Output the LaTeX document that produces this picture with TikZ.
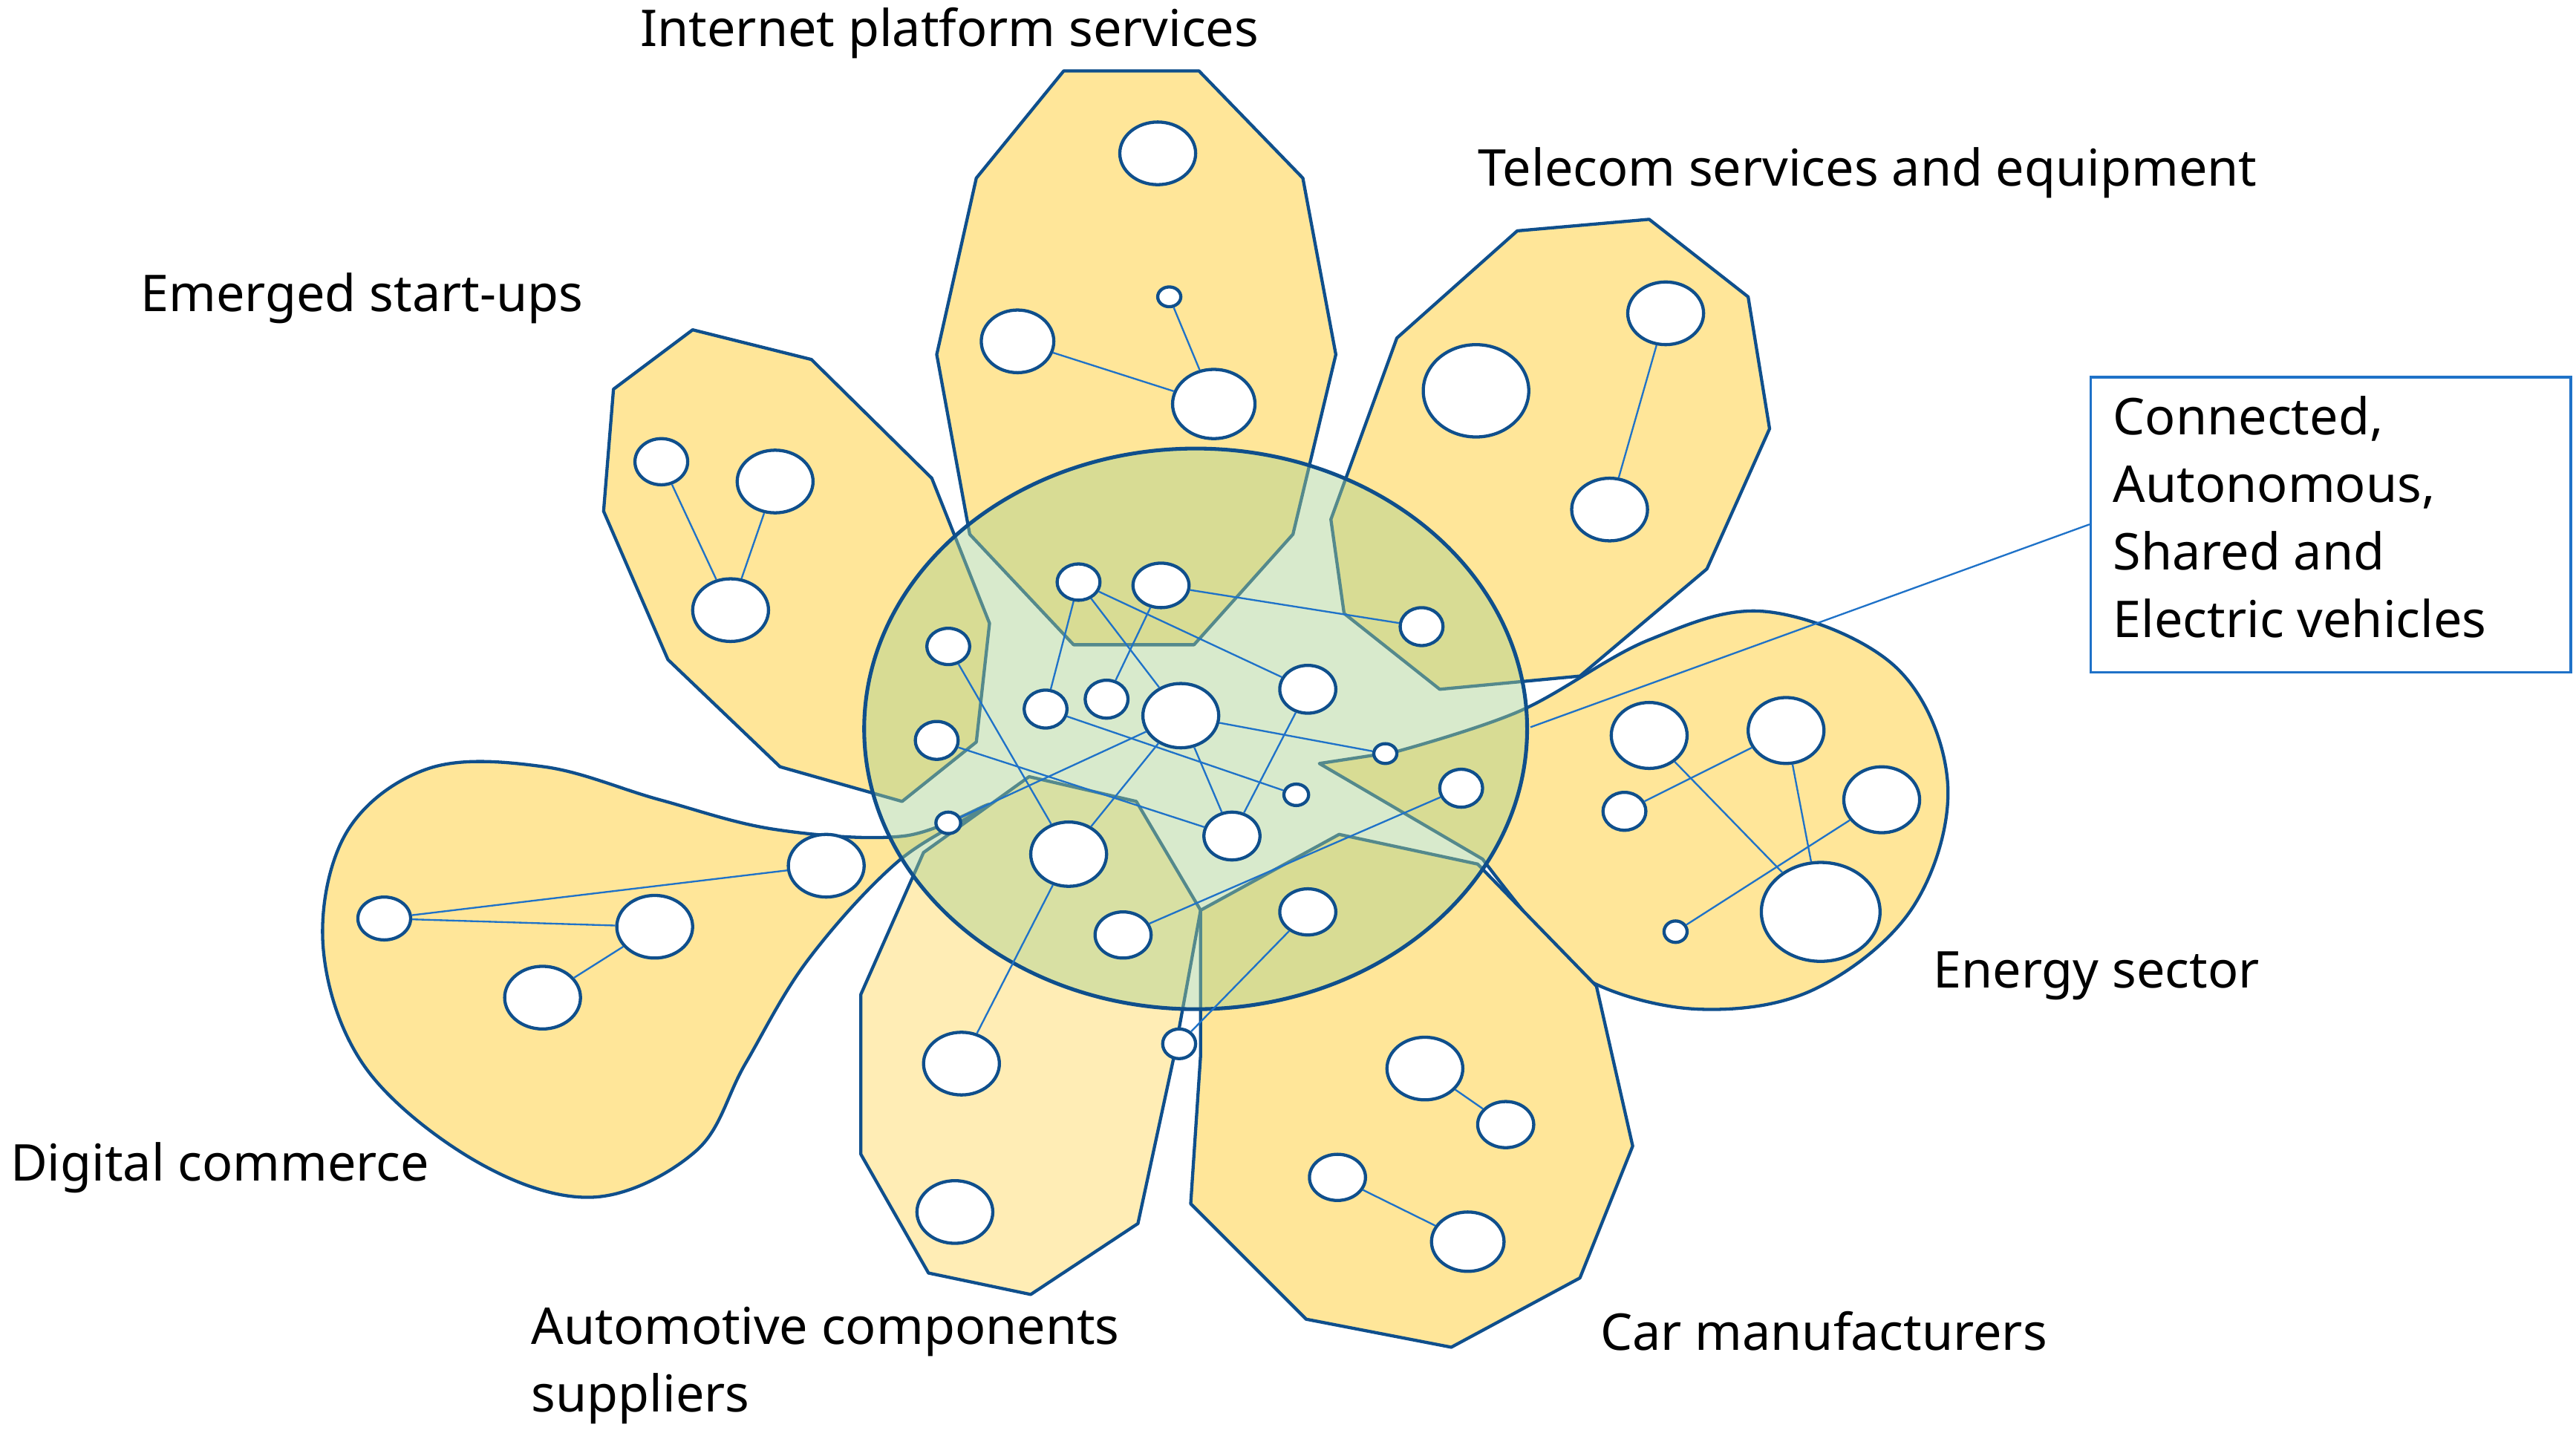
\documentclass[tikz,border=0pt]{standalone}
\usepackage{fontspec}
\setmainfont{Noto Sans}
\usetikzlibrary{shapes.geometric}
\definecolor{petalfill}{HTML}{FFE699}
\definecolor{lightpetal}{HTML}{FFEDB5}
\definecolor{rimblue}{HTML}{0F4F8C}
\definecolor{linkblue}{HTML}{1F72C8}
\definecolor{coregreen}{HTML}{A9D18E}
\tikzset{
  petal/.style={fill=petalfill,draw=rimblue,line width=1.1pt,line join=round},
  spot/.style 2 args={ellipse,draw=rimblue,fill=white,line width=1.1pt,inner sep=0pt,
    minimum width=#1cm,minimum height=#2cm},
  label/.style={anchor=west,inner sep=0pt,font=\fontsize{17.5}{23.3}\selectfont}
}
\begin{document}
\begin{tikzpicture}[x=0.02cm,y=-0.02cm]
  \useasboundingbox (0,0) rectangle (1562,869);
  % petals
  \filldraw[petal] plot[smooth cycle,tension=0.6] coordinates {(600,488) (548,507) (470,503) (400,485) (330,465) (260,466) (210,505) (196,575) (222,648) (290,705) (360,726) (422,698) (452,645) (490,582) (545,522)};
  \filldraw[petal] (372,236) -- (420,200) -- (492,218) -- (565,290) -- (600,378) -- (592,450) -- (547,486) -- (473,465) -- (405,400) -- (366,310) -- cycle;
  \filldraw[petal] (592,108) -- (645,43) -- (727,43) -- (790,108) -- (810,215) -- (784,324) -- (724,391) -- (651,391) -- (588,324) -- (568,215) -- cycle;
  \filldraw[petal] (847,205) -- (920,140) -- (1000,133) -- (1060,180) -- (1073,260) -- (1035,345) -- (958,410) -- (873,418) -- (815,372) -- (807,315) -- cycle;
  \filldraw[petal] (800,463) -- plot[smooth,tension=0.6] coordinates {(846,456) (922,431) (1000,388) (1072,371) (1150,405) (1181,475) (1160,550) (1100,600) (1030,612) (964,595) (930,560) (899,521)} -- cycle;
  \filldraw[petal,fill=lightpetal] (624,471) -- (689,486) -- (728,552) -- (712,640) -- (690,742) -- (625,785) -- (563,772) -- (522,700) -- (522,603) -- (560,517) -- cycle;
  \filldraw[petal] (728,552) -- (812,506) -- (896,524) -- (968,598) -- (990,695) -- (958,775) -- (880,817) -- (792,800) -- (722,730) -- (728,640) -- cycle;
  % core
  \filldraw[draw=rimblue,line width=1.3pt,fill=coregreen,fill opacity=0.45] (725,442) ellipse [x radius=201,y radius=170];
  \begin{scope}[every node/.style={spot={0.92}{0.76}}]
    % internet
    \node (i1) at (702,93) {};
    \node[spot={0.28}{0.24}] (i2) at (709,180) {};
    \node[spot={0.88}{0.76}] (i3) at (617,207) {};
    \node[spot={1.0}{0.84}] (i4) at (736,245) {};
    % telecom
    \node (t1) at (1010,190) {};
    \node[spot={1.28}{1.12}] (t2) at (895,237) {};
    \node (t3) at (976,309) {};
    % start-ups
    \node[spot={0.64}{0.56}] (s1) at (401,280) {};
    \node (s2) at (470,292) {};
    \node (s3) at (443,370) {};
    % digital
    \node[spot={0.64}{0.52}] (d1) at (233,557) {};
    \node (d2) at (397,562) {};
    \node (d3) at (329,605) {};
    \node (d4) at (501,525) {};
    % automotive
    \node (a1) at (583,645) {};
    \node (a2) at (579,735) {};
    % car
    \node (m1) at (864,648) {};
    \node[spot={0.68}{0.56}] (m2) at (913,682) {};
    \node[spot={0.68}{0.56}] (m3) at (811,714) {};
    \node[spot={0.88}{0.72}] (m4) at (890,753) {};
    % energy
    \node[spot={0.92}{0.8}] (e1) at (1000,446) {};
    \node[spot={0.92}{0.8}] (e2) at (1083,443) {};
    \node[spot={0.92}{0.8}] (e3) at (1141,485) {};
    \node[spot={0.52}{0.46}] (e4) at (985,492) {};
    \node[spot={1.44}{1.2}] (e5) at (1104,553) {};
    \node[spot={0.28}{0.26}] (e6) at (1016,565) {};
    % core
    \node[spot={0.52}{0.44}] (c1) at (654,353) {};
    \node[spot={0.68}{0.54}] (c2) at (704,355) {};
    \node[spot={0.52}{0.44}] (c3) at (575,392) {};
    \node[spot={0.52}{0.46}] (c4) at (634,430) {};
    \node[spot={0.52}{0.46}] (c5) at (671,424) {};
    \node[spot={0.92}{0.78}] (c6) at (716,434) {};
    \node[spot={0.68}{0.58}] (c7) at (793,418) {};
    \node[spot={0.52}{0.46}] (c8) at (862,380) {};
    \node[spot={0.52}{0.46}] (c9) at (568,449) {};
    \node[spot={0.28}{0.24}] (c10) at (840,457) {};
    \node[spot={0.3}{0.26}] (c11) at (786,482) {};
    \node[spot={0.52}{0.46}] (c12) at (886,478) {};
    \node[spot={0.3}{0.26}] (c13) at (575,499) {};
    \node[spot={0.68}{0.58}] (c14) at (747,507) {};
    \node[spot={0.92}{0.78}] (c15) at (648,518) {};
    \node[spot={0.68}{0.56}] (c16) at (681,567) {};
    \node[spot={0.68}{0.56}] (c17) at (793,553) {};
    \node[spot={0.4}{0.36}] (c18) at (715,633) {};
  \end{scope}
  \begin{scope}[every edge/.style={draw=linkblue,line width=0.6pt}]
    \path (i2) edge (i4);
    \path (i3) edge (i4);
    \path (t1) edge (t3);
    \path (s1) edge (s3);
    \path (s2) edge (s3);
    \path (d1) edge (d2);
    \path (d1) edge (d4);
    \path (d2) edge (d3);
    \path (m1) edge (m2);
    \path (m3) edge (m4);
    \path (e1) edge (e5);
    \path (e4) edge (e2);
    \path (e2) edge (e5);
    \path (e6) edge (e3);
    \path (c1) edge (c7);
    \path (c1) edge (c4);
    \path (c1) edge (c6);
    \path (c2) edge (c8);
    \path (c2) edge (c5);
    \path (c3) edge (c15);
    \path (c4) edge (c11);
    \path (c9) edge (c14);
    \path (c6) edge (c10);
    \path (c6) edge (c14);
    \path (c7) edge (c14);
    \path (c13) edge (c6);
    \path (c6) edge (c15);
    \path (c12) edge (c16);
    \path (c17) edge (c18);
    \path (c15) edge (a1);
  \end{scope}
  % callout
  \node[draw=linkblue,line width=0.9pt,minimum width=5.82cm,minimum height=3.58cm,
    anchor=north west,inner sep=0pt] (cases) at (1267,228) {};
  \node[label,align=left,anchor=north west] (casestext) at (1281,240)
    {Connected,\\Autonomous,\\Shared and\\Electric vehicles};
  \coordinate (tip) at (928,441);
  \draw[linkblue,line width=0.6pt] (tip) -- (cases.west |- 0,318);
  % labels
  \node[label] (lint) at (388,20) {Internet platform services};
  \node[label] (ltel) at (896,105) {Telecom services and equipment};
  \node[label] (lsta) at (85,181) {Emerged start-ups};
  \node[label] (lene) at (1172,592) {Energy sector};
  \node[label] (ldig) at (6,708) {Digital commerce};
  \node[label,align=left] (laut) at (322,828) {Automotive components\\suppliers};
  \node[label] (lcar) at (970,807) {Car manufacturers};
\end{tikzpicture}
\end{document}
